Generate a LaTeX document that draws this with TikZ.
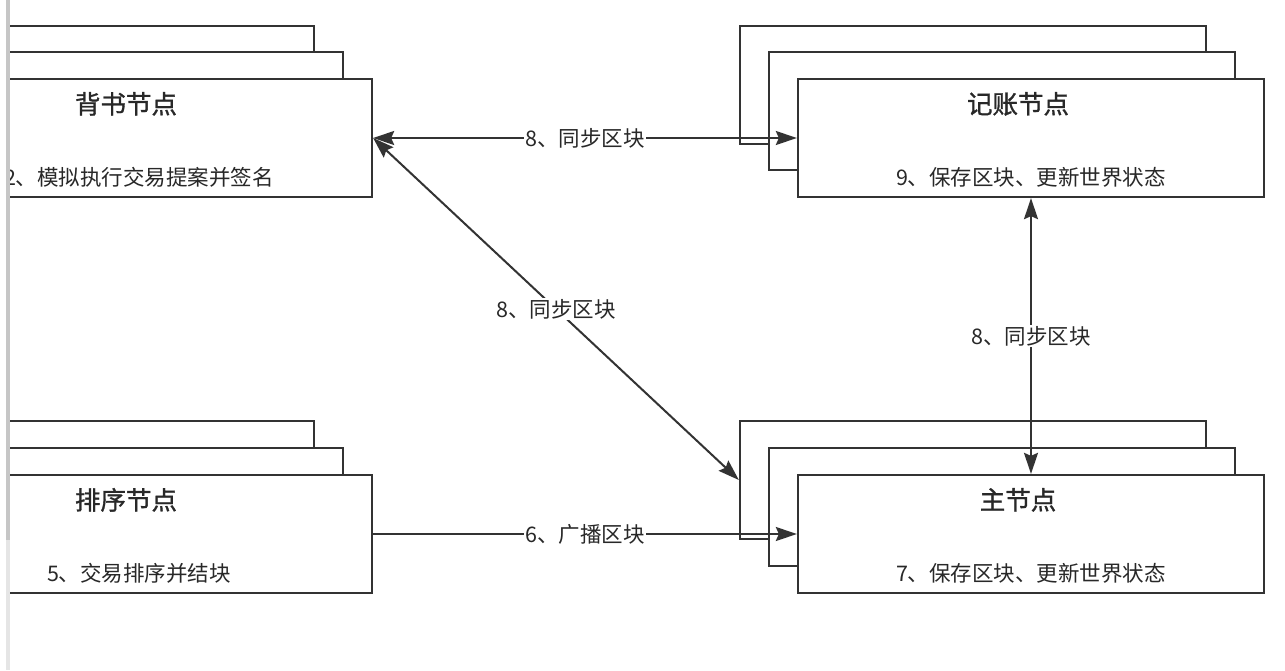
\documentclass[tikz,border=0pt]{standalone}
\usepackage{fontspec}
\setmainfont{Noto Sans CJK SC}
\newfontfamily\titlefont[FakeBold=1.2]{Noto Sans CJK SC}
\usetikzlibrary{arrows.meta, positioning}
\definecolor{LineDark}{RGB}{51,51,51}
\definecolor{TextDark}{RGB}{40,40,40}

\begin{document}
\begin{tikzpicture}[
      x=1pt, y=1pt,
      stackbox/.style={draw=LineDark, fill=white, line width=2.3pt,
                       minimum width=466pt, minimum height=118pt, inner sep=0pt},
      title/.style={font=\titlefont\fontsize{25.5}{30}\selectfont, text=TextDark},
      body/.style={font=\fontsize{21.5}{26}\selectfont, text=TextDark},
      tag/.style={font=\fontsize{21.5}{26}\selectfont, text=TextDark, fill=white, inner sep=1pt},
      sync/.style={{Stealth[length=21pt, width=14pt, inset=3pt]}-{Stealth[length=21pt, width=14pt, inset=3pt]},
                   line width=2pt, LineDark},
      flow/.style={-{Stealth[length=21pt, width=14pt, inset=3pt]}, line width=2pt, LineDark},
    ]
      \clip (0,0) rectangle (1285,-670);
      \fill[white] (0,0) rectangle (1285,-670);

      % endorser stack
      \node[stackbox] (endorserBack) at (81,-85) {};
      \node[stackbox] (endorserMid) at (110,-111) {};
      \node[stackbox] (endorser) at (139,-138) {};
      \node[title] (endorserTitle) at ([xshift=-13pt, yshift=-26pt]endorser.north) {背书节点};
      \node[body] (endorserJob) at ([yshift=21pt]endorser.south) {2、模拟执行交易提案并签名};

      % ledger stack
      \node[stackbox] (ledgerBack) at (973,-85) {};
      \node[stackbox] (ledgerMid) at (1002,-111) {};
      \node[stackbox] (ledger) at (1031,-138) {};
      \node[title] (ledgerTitle) at ([xshift=-13pt, yshift=-26pt]ledger.north) {记账节点};
      \node[body] (ledgerJob) at ([yshift=21pt]ledger.south) {9、保存区块、更新世界状态};

      % orderer stack
      \node[stackbox] (ordererBack) at (81,-480) {};
      \node[stackbox] (ordererMid) at (110,-507) {};
      \node[stackbox] (orderer) at (139,-534) {};
      \node[title] (ordererTitle) at ([xshift=-13pt, yshift=-26pt]orderer.north) {排序节点};
      \node[body] (ordererJob) at ([yshift=21pt]orderer.south) {5、交易排序并结块};

      % master stack
      \node[stackbox] (masterBack) at (973,-480) {};
      \node[stackbox] (masterMid) at (1002,-507) {};
      \node[stackbox] (master) at (1031,-534) {};
      \node[title] (masterTitle) at ([xshift=-13pt, yshift=-26pt]master.north) {主节点};
      \node[body] (masterJob) at ([yshift=21pt]master.south) {7、保存区块、更新世界状态};

      \draw[sync] (endorser.east) -- node[tag] {8、同步区块} (ledger.west);
      \draw[sync] (endorser.east) -- node[tag] {8、同步区块} (masterBack.west);
      \draw[sync] (ledger.south) -- node[tag] {8、同步区块} (master.north);
      \draw[flow] (orderer.east) -- node[tag] {6、广播区块} (master.west);

      % window edge
      \fill[white] (0,0) rectangle (6,-670);
      \fill[gray!45] (6,0) rectangle (10,-540);
      \fill[gray!20] (6,-540) rectangle (10,-670);
    \end{tikzpicture}
\end{document}
